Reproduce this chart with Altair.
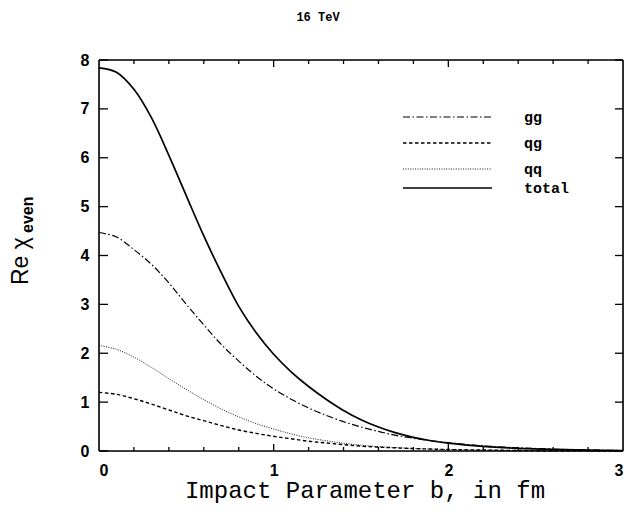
import altair as alt
import pandas as pd

# impact parameter grid (fm)
b = [0.0, 0.1, 0.2, 0.3, 0.4, 0.5, 0.6, 0.7, 0.8, 0.9, 1.0, 1.1, 1.2, 1.3,
     1.4, 1.5, 1.6, 1.7, 1.8, 1.9, 2.0, 2.2, 2.4, 2.6, 2.8, 3.0]

gg = [4.47, 4.38, 4.12, 3.82, 3.44, 3.00, 2.58, 2.18, 1.84, 1.53, 1.27, 1.06, 0.88, 0.73,
      0.60, 0.49, 0.40, 0.32, 0.26, 0.21, 0.17, 0.105, 0.065, 0.04, 0.02, 0.01]
qg = [1.20, 1.16, 1.07, 0.96, 0.84, 0.72, 0.62, 0.52, 0.43, 0.36, 0.30, 0.25, 0.20, 0.165,
      0.13, 0.10, 0.08, 0.065, 0.05, 0.04, 0.03, 0.02, 0.01, 0.005, 0.002, 0.0]
qq = [2.16, 2.08, 1.92, 1.71, 1.48, 1.26, 1.05, 0.86, 0.70, 0.56, 0.45, 0.35, 0.27, 0.21,
      0.16, 0.12, 0.09, 0.07, 0.05, 0.04, 0.03, 0.02, 0.01, 0.005, 0.002, 0.0]
total = [7.84, 7.75, 7.40, 6.82, 6.05, 5.22, 4.40, 3.65, 2.96, 2.42, 1.98, 1.62, 1.32, 1.06,
         0.83, 0.64, 0.49, 0.37, 0.28, 0.21, 0.16, 0.095, 0.055, 0.032, 0.018, 0.01]

series_names = ["gg", "qg", "qq", "total"]
series_values = [gg, qg, qq, total]

x_major = [0, 1, 2, 3]
x_minor = [0.2, 0.4, 0.6, 0.8, 1.2, 1.4, 1.6, 1.8, 2.2, 2.4, 2.6, 2.8]
x_major_inner = [1, 2]
y_ticks = [0, 1, 2, 3, 4, 5, 6, 7, 8]

title_text = "16 TeV"
x_title = "Impact Parameter b, in fm"

W, H = 524, 391

dashes = {"gg": [7, 2.5, 1.5, 2.5], "qg": [3.5, 2.5], "qq": [1, 1.4], "total": [1, 0]}
widths = {"gg": 1.2, "qg": 1.4, "qq": 0.9, "total": 1.7}

xscale = alt.Scale(domain=[0, 3], nice=False, zero=False)
yscale = alt.Scale(domain=[0, 8], nice=False)

tick_font = "Liberation Sans"
mono = "Liberation Mono"

xaxis = alt.Axis(values=x_major, format="d", ticks=False, domain=False, grid=False,
                 labelFont=tick_font, labelFontSize=16, labelFontWeight="bold",
                 labelColor="black", labelPadding=11, title=None)
yaxis = alt.Axis(values=y_ticks, format="d", ticks=False, domain=False, grid=False,
                 labelFont=tick_font, labelFontSize=16, labelFontWeight="bold",
                 labelColor="black", labelPadding=10, title=None)

line_layers = []
for i, (name, vals) in enumerate(zip(series_names, series_values)):
    d = pd.DataFrame({"b": b, "v": vals})
    mk = {"color": "black", "interpolate": "catmull-rom", "strokeWidth": widths[name]}
    if name != "total":
        mk["strokeDash"] = dashes[name]
    if i == 0:
        enc = dict(x=alt.X("b:Q", scale=xscale, axis=xaxis),
                   y=alt.Y("v:Q", scale=yscale, axis=yaxis))
    else:
        enc = dict(x=alt.X("b:Q", scale=xscale), y=alt.Y("v:Q", scale=yscale))
    line_layers.append(alt.Chart(d).mark_line(**mk).encode(**enc))

def xticks(vals, y0, y1):
    return alt.Chart(pd.DataFrame({"t": vals})).mark_rule(color="black", strokeWidth=1.3).encode(
        x=alt.X("t:Q", scale=xscale),
        y=alt.value(y0), y2=alt.value(y1))

def yticks(vals, x0, x1):
    return alt.Chart(pd.DataFrame({"t": vals})).mark_rule(color="black", strokeWidth=1.3).encode(
        y=alt.Y("t:Q", scale=yscale),
        x=alt.value(x0), x2=alt.value(x1))

tick_layers = [
    xticks(x_minor, H, H - 4), xticks(x_major_inner, H, H - 7),
    xticks(x_minor, 0, 4), xticks(x_major_inner, 0, 7),
    yticks(y_ticks, 0, 9), yticks(y_ticks, W, W - 8),
]

one = pd.DataFrame({"k": [0]})

def edge(**kw):
    return alt.Chart(one).mark_rule(color="black", strokeWidth=1.6).encode(
        **{k: alt.value(v) for k, v in kw.items()})

frame_layers = [
    edge(x=0, x2=W, y=0), edge(x=0, x2=W, y=H),
    edge(x=0, y=0, y2=H), edge(x=W, y=0, y2=H),
]

# legend
leg_y = [57, 83, 109, 128]
legend_layers = []
for name, ly in zip(series_names, leg_y):
    d = pd.DataFrame({"s": [name]})
    mk = {"color": "black", "strokeWidth": widths[name]}
    if name != "total":
        mk["strokeDash"] = dashes[name]
    legend_layers.append(
        alt.Chart(d).mark_rule(**mk).encode(
            x=alt.value(304), x2=alt.value(393), y=alt.value(ly)))
    legend_layers.append(
        alt.Chart(d).mark_text(align="left", baseline="middle", font=mono, fontWeight="bold",
                               fontSize=15, color="black").encode(
            x=alt.value(425), y=alt.value(ly), text="s:N"))

title_layer = alt.Chart(one).mark_text(align="center", baseline="middle", font=mono,
                                       fontWeight="bold", fontSize=12, color="black").encode(
    x=alt.value(219), y=alt.value(-43), text=alt.value(title_text))

xtitle_layer = alt.Chart(one).mark_text(align="center", baseline="alphabetic", font=mono,
                                        fontSize=24, color="black").encode(
    x=alt.value(W / 2 + 4), y=alt.value(H + 47), text=alt.value(x_title))

ylab1 = alt.Chart(one).mark_text(align="left", baseline="alphabetic", angle=270, font=tick_font,
                                 fontSize=23, color="black").encode(
    x=alt.value(-71), y=alt.value(225), text=alt.value("Re χ"))
ylab2 = alt.Chart(one).mark_text(align="left", baseline="alphabetic", angle=270, font=tick_font,
                                 fontSize=16, fontWeight="bold", color="black").encode(
    x=alt.value(-66), y=alt.value(173), text=alt.value("even"))

chart = alt.layer(*line_layers, *frame_layers, *tick_layers, *legend_layers, title_layer,
                  xtitle_layer, ylab1, ylab2).properties(
    width=W, height=H,
    padding={"left": 99, "top": 60, "right": 5, "bottom": 65},
    autosize=alt.AutoSizeParams(type="none"),
    background="white",
)

chart.save("out.html", embed_options={"renderer": "svg", "actions": False})
